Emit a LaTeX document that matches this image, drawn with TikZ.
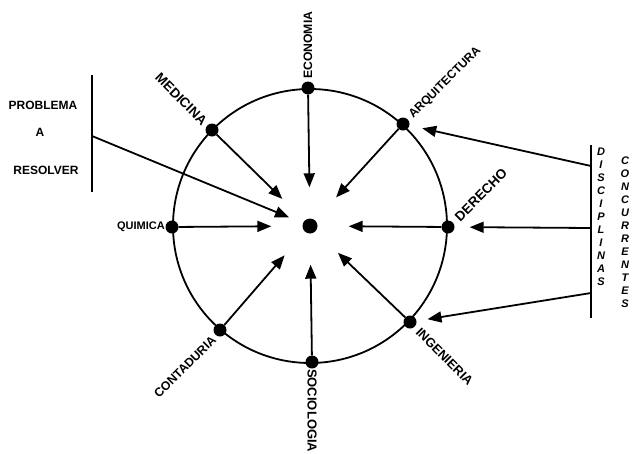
\documentclass[tikz,border=0pt]{standalone}
\usepackage{fontspec}
\setmainfont{Liberation Sans}
\usepackage{graphicx}
\usetikzlibrary{arrows.meta}
\begin{document}
\begin{tikzpicture}[x=1pt,y=-1pt,
  ln/.style={line width=1.8pt},
  arr/.style={ln,-{Triangle[length=14pt,width=11pt]}},
  dot/.style={circle,fill,inner sep=0pt,minimum size=13pt},
  lab/.style={inner sep=0pt,font=\fontsize{12}{12}\selectfont\bfseries},
  vlab/.style={inner sep=0pt,align=center,font=\fontsize{11}{13}\selectfont\bfseries\itshape}
]
\useasboundingbox (0,0) rectangle (632,453);
\coordinate (o) at (310,226);
\draw[ln] (o) circle[radius=137pt];

% discipline dots
\node[dot] (eco) at (308,88) {};
\node[dot] (arq) at (403,124) {};
\node[dot] (der) at (448,227) {};
\node[dot] (ing) at (410,322) {};
\node[dot] (soc) at (312,362) {};
\node[dot] (con) at (220,330) {};
\node[dot] (qui) at (172,227) {};
\node[dot] (med) at (212,130) {};
\node[circle,fill,inner sep=0pt,minimum size=15pt] (ctr) at (o) {};

% arrows to the centre
\foreach \n in {eco,arq,der,ing,soc,con,qui,med}
  \draw[arr,shorten >=31pt] (\n) -- (ctr);

% labels
\node[lab,font=\fontsize{12.2}{12}\selectfont\bfseries,rotate=90,anchor=west] (leco) at (308,79) {ECONOMIA};
\node[lab,font=\fontsize{13}{12}\selectfont\bfseries,rotate=-90,anchor=west] (lsoc) at (312,369) {SOCIOLOGIA};
\node[lab,font=\fontsize{13.5}{12}\selectfont\bfseries,rotate=-45,anchor=east] (lmed) at (205,123) {MEDICINA};
\node[lab,rotate=45,anchor=west] (larq) at (411,117) {ARQUITECTURA};
\node[lab,font=\fontsize{13.5}{12}\selectfont\bfseries,rotate=45,anchor=west] (lder) at (457,219) {DERECHO};
\node[lab,font=\fontsize{12.8}{12}\selectfont\bfseries,rotate=-45,anchor=west] (ling) at (418,330) {INGENIERIA};
\node[lab,font=\fontsize{12.3}{12}\selectfont\bfseries,rotate=45,anchor=east] (lcon) at (214,338) {CONTADURIA};
\node[lab,font=\fontsize{11}{12}\selectfont\bfseries,anchor=east] (lqui) at (165,227) {QUIMICA};

% problem bracket
\node[lab] (prob) at (43,105) {PROBLEMA};
\node[lab] (pa) at (40,132) {A};
\node[lab] (pres) at (46,170) {RESOLVER};
\coordinate (lt) at (92,75);
\coordinate (lb) at (92,192);
\coordinate (lp) at (92,136);
\draw[ln] (lt) -- (lb);
\draw[arr,shorten >=15pt] (lp) -- (ctr);

% disciplines bracket
\coordinate (rt) at (591,145);
\coordinate (rb) at (591,318);
\coordinate (r1) at (591,166);
\coordinate (r2) at (591,228);
\coordinate (r3) at (591,293);
\draw[ln] (rt) -- (rb);
\draw[arr,shorten >=13pt] (r1) -- (arq);
\draw[arr,shorten >=15pt] (r2) -- (der);
\draw[arr,shorten >=11pt] (r3) -- (ing);
\node[vlab] (disc) at (601,217) {D\\I\\S\\C\\I\\P\\L\\I\\N\\A\\S};
\node[vlab] (conc) at (625,232) {C\\O\\N\\C\\U\\R\\R\\E\\N\\T\\E\\S};
\end{tikzpicture}
\end{document}
